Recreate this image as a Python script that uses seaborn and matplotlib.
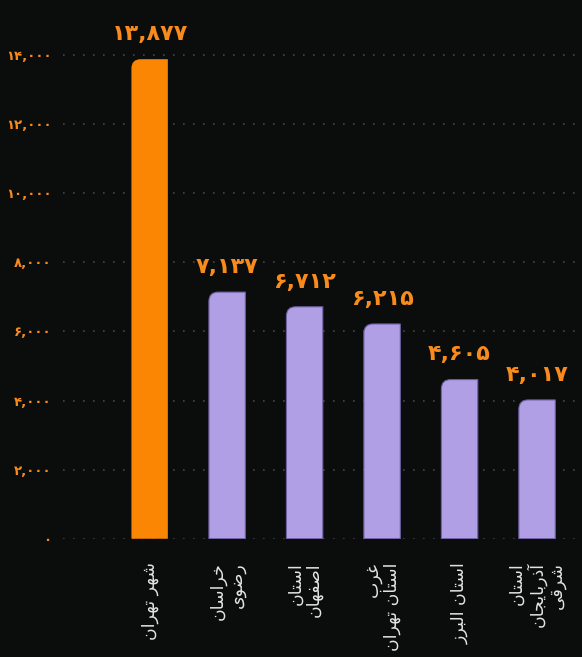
import matplotlib
matplotlib.use('Agg')
import matplotlib.pyplot as plt
from matplotlib.path import Path
from matplotlib.patches import PathPatch
import seaborn as sns
import pandas as pd

# data
regions = ['شهر تهران', 'خراسان\nرضوی', 'استان\nاصفهان', 'غرب\nاستان تهران',
           'استان البرز', 'استان\nآذربایجان\nشرقی']
counts = [13877, 7137, 6712, 6215, 4605, 4017]
bar_colors = ['#fb8604', '#b09fe5', '#b09fe5', '#b09fe5', '#b09fe5', '#b09fe5']
y_ticks = [0, 2000, 4000, 6000, 8000, 10000, 12000, 14000]

BG = '#0b0c0c'
ORANGE = '#f98b1c'
FA_DIGITS = str.maketrans('0123456789', '۰۱۲۳۴۵۶۷۸۹')

# matplotlib has no arabic shaping -> map letters to presentation forms by hand
# (isolated, final, initial, medial); None for letters that do not join forward
FORMS = {
    'ا': ('\ufe8d', '\ufe8e', None, None),
    'آ': ('\ufe81', '\ufe82', None, None),
    'ب': ('\ufe8f', '\ufe90', '\ufe91', '\ufe92'),
    'ت': ('\ufe95', '\ufe96', '\ufe97', '\ufe98'),
    'ج': ('\ufe9d', '\ufe9e', '\ufe9f', '\ufea0'),
    'خ': ('\ufea5', '\ufea6', '\ufea7', '\ufea8'),
    'ذ': ('\ufeab', '\ufeac', None, None),
    'ر': ('\ufead', '\ufeae', None, None),
    'ز': ('\ufeaf', '\ufeb0', None, None),
    'س': ('\ufeb1', '\ufeb2', '\ufeb3', '\ufeb4'),
    'ش': ('\ufeb5', '\ufeb6', '\ufeb7', '\ufeb8'),
    'ص': ('\ufeb9', '\ufeba', '\ufebb', '\ufebc'),
    'ض': ('\ufebd', '\ufebe', '\ufebf', '\ufec0'),
    'غ': ('\ufecd', '\ufece', '\ufecf', '\ufed0'),
    'ف': ('\ufed1', '\ufed2', '\ufed3', '\ufed4'),
    'ق': ('\ufed5', '\ufed6', '\ufed7', '\ufed8'),
    'ل': ('\ufedd', '\ufede', '\ufedf', '\ufee0'),
    'ن': ('\ufee5', '\ufee6', '\ufee7', '\ufee8'),
    'ه': ('\ufee9', '\ufeea', '\ufeeb', '\ufeec'),
    'و': ('\ufeed', '\ufeee', None, None),
    'ی': ('\ufeef', '\ufef0', '\ufef3', '\ufef4'),
}


def shape_line(line):
    out = []
    for i, ch in enumerate(line):
        if ch not in FORMS:
            out.append(ch)
            continue
        prev = line[i - 1] if i > 0 else ''
        nxt = line[i + 1] if i + 1 < len(line) else ''
        joins_prev = prev in FORMS and FORMS[prev][2] is not None
        joins_next = FORMS[ch][2] is not None and nxt in FORMS
        iso, fin, ini, med = FORMS[ch]
        if joins_prev and joins_next:
            out.append(med)
        elif joins_prev:
            out.append(fin)
        elif joins_next:
            out.append(ini)
        else:
            out.append(iso)
    return ''.join(out)[::-1]


def shape(text):
    return '\n'.join(shape_line(l) for l in text.split('\n'))


df = pd.DataFrame({'region': regions, 'count': counts})

fig = plt.figure(figsize=(5.82, 6.57), dpi=100, facecolor=BG)
ax = fig.add_axes([0.108, 0.18, 0.892, 0.82])
ax.set_facecolor(BG)

sns.barplot(data=df, x='region', y='count', hue='region', palette=bar_colors,
            saturation=1, legend=False, width=0.47, ax=ax, edgecolor='none')

ax.set_xlim(-1.12, 5.58)
ax.set_ylim(0, 15590)

# round the top-left corner of every bar (radius ~9px)
rx = 0.12
ry = rx * (ax.transData.transform((0, 1))[1] - ax.transData.transform((0, 0))[1]) ** -1 \
    * (ax.transData.transform((1, 0))[0] - ax.transData.transform((0, 0))[0])
for patch, c in list(zip(ax.patches, bar_colors)):
    x0, y0 = patch.get_x(), patch.get_y()
    w, h = patch.get_width(), patch.get_height()
    verts = [(x0, y0), (x0, y0 + h - ry), (x0, y0 + h), (x0 + rx, y0 + h),
             (x0 + w, y0 + h), (x0 + w, y0), (x0, y0)]
    codes = [Path.MOVETO, Path.LINETO, Path.CURVE3, Path.CURVE3,
             Path.LINETO, Path.LINETO, Path.CLOSEPOLY]
    edge = '#6e60a0' if c != bar_colors[0] else 'none'
    ax.add_patch(PathPatch(Path(verts, codes), facecolor=c, edgecolor=edge,
                           linewidth=0.8, zorder=patch.get_zorder()))
    patch.set_visible(False)

for i, v in enumerate(counts):
    ax.annotate(f'{v:,}'.translate(FA_DIGITS), (i, v), xytext=(0, 11),
                textcoords='offset points', ha='center', va='bottom',
                color=ORANGE, fontsize=16, fontweight='bold')

ax.set_yticks(y_ticks)
ax.set_yticklabels([f'{t:,}'.translate(FA_DIGITS) for t in y_ticks],
                   color=ORANGE, fontsize=9.5, fontweight='bold')
ax.set_xticks(range(len(regions)))
ax.set_xticklabels([shape(r) for r in regions], rotation=90, color='#e4e4e4',
                   fontsize=12.5, va='top', ha='center', multialignment='right',
                   linespacing=1.05)

ax.grid(axis='y', color='#454545', linestyle=(0, (1, 5)), linewidth=1.2)
ax.grid(axis='x', visible=False)
ax.set_axisbelow(True)
ax.tick_params(axis='y', length=0, pad=8)
ax.tick_params(axis='x', length=0, pad=17)
ax.set_xlabel('')
ax.set_ylabel('')
for s in ax.spines.values():
    s.set_visible(False)

fig.savefig('out.png', dpi=100, facecolor=BG)
